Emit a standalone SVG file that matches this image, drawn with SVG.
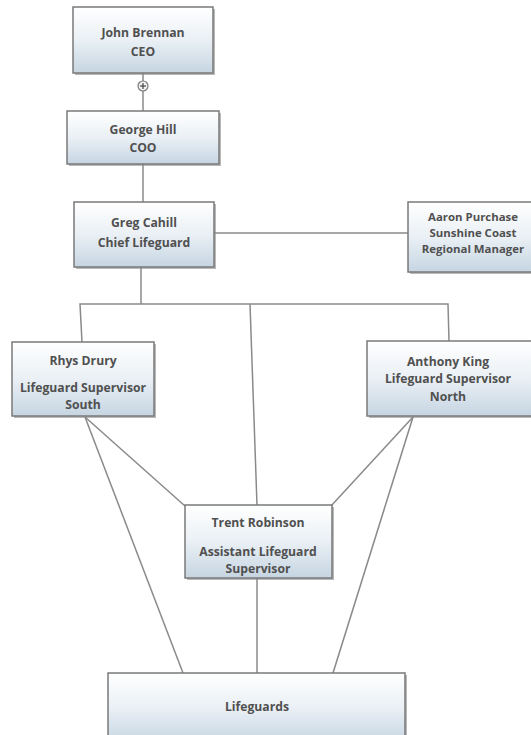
<svg xmlns="http://www.w3.org/2000/svg" width="531" height="735" viewBox="0 0 531 735">
<style>
.box{fill:url(#g);stroke:#7a7a7a;stroke-width:1.5}
.sh{fill:#8a8a8a;opacity:0.6}
.t{font-family:"Open Sans","DejaVu Sans",sans-serif;font-size:12.2px;font-weight:700;fill:#505050;text-anchor:middle}
.s{font-size:11.4px}
.c{fill:none;stroke:#8a8a8a;stroke-width:1.5}
</style>
<defs>
<linearGradient id="g" x1="0" y1="0" x2="0" y2="1">
<stop offset="0" stop-color="#ffffff"/>
<stop offset="0.5" stop-color="#eaf0f5"/>
<stop offset="1" stop-color="#c6d5e2"/>
</linearGradient>
</defs>
<rect width="531" height="735" fill="#ffffff"/>
<g id="connectors">
<line class="c" x1="143" y1="73" x2="143" y2="111"/>
<line class="c" x1="143" y1="164" x2="143" y2="202"/>
<line class="c" x1="214" y1="233" x2="408" y2="233"/>
<line class="c" x1="141" y1="267" x2="141" y2="304"/>
<polyline class="c" points="82,342 80,304 448,304 449,341"/>
<line class="c" x1="250" y1="304" x2="257" y2="505"/>
<line class="c" x1="85" y1="417" x2="185" y2="506"/>
<line class="c" x1="85" y1="417" x2="183" y2="673"/>
<line class="c" x1="413" y1="417" x2="331" y2="506"/>
<line class="c" x1="413" y1="417" x2="333" y2="673"/>
<line class="c" x1="257" y1="578" x2="257" y2="673"/>
<circle cx="143" cy="86" r="5" fill="#f2f2f2" stroke="#7a7a7a" stroke-width="1.2"/>
<line x1="140" y1="86" x2="146" y2="86" stroke="#444" stroke-width="1.2"/>
<line x1="143" y1="83" x2="143" y2="89" stroke="#444" stroke-width="1.2"/>
</g>
<g id="ceo">
<rect class="sh" x="75" y="9" width="140" height="66"/>
<rect class="box" x="73" y="7" width="140" height="66"/>
<text class="t" x="143" y="37">John Brennan</text>
<text class="t" x="143" y="56">CEO</text>
</g>
<g id="coo">
<rect class="sh" x="69" y="113" width="152" height="53"/>
<rect class="box" x="67" y="111" width="152" height="53"/>
<text class="t" x="143" y="134">George Hill</text>
<text class="t" x="143" y="152">COO</text>
</g>
<g id="greg">
<rect class="sh" x="76" y="204" width="140" height="65"/>
<rect class="box" x="74" y="202" width="140" height="65"/>
<text class="t" x="144" y="227">Greg Cahill</text>
<text class="t" x="144" y="247">Chief Lifeguard</text>
</g>
<g id="aaron">
<rect class="sh" x="410" y="204" width="130" height="70"/>
<rect class="box" x="408" y="202" width="130" height="70"/>
<text class="t s" x="473" y="221">Aaron Purchase</text>
<text class="t s" x="473" y="237">Sunshine Coast</text>
<text class="t s" x="473" y="253">Regional Manager</text>
</g>
<g id="rhys">
<rect class="sh" x="14" y="344" width="142" height="74"/>
<rect class="box" x="12" y="342" width="142" height="74"/>
<text class="t" x="83" y="365">Rhys Drury</text>
<text class="t" x="83" y="392">Lifeguard Supervisor</text>
<text class="t" x="83" y="409">South</text>
</g>
<g id="anthony">
<rect class="sh" x="369" y="343" width="170" height="75"/>
<rect class="box" x="367" y="341" width="170" height="75"/>
<text class="t" x="448" y="366">Anthony King</text>
<text class="t" x="448" y="383">Lifeguard Supervisor</text>
<text class="t" x="448" y="401">North</text>
</g>
<g id="trent">
<rect class="sh" x="187" y="507" width="147" height="73"/>
<rect class="box" x="185" y="505" width="147" height="73"/>
<text class="t" x="258" y="527">Trent Robinson</text>
<text class="t" x="258" y="556">Assistant Lifeguard</text>
<text class="t" x="258" y="573">Supervisor</text>
</g>
<g id="lifeguards">
<rect class="sh" x="110" y="675" width="297" height="70"/>
<rect class="box" x="108" y="673" width="297" height="70"/>
<text class="t" x="257" y="711">Lifeguards</text>
</g>
</svg>
